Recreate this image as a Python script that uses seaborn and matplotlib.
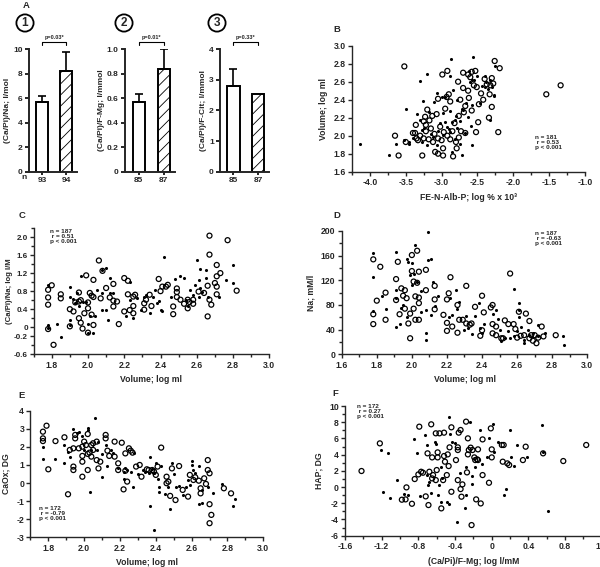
import matplotlib
matplotlib.use("Agg")
import matplotlib.pyplot as plt
import seaborn as sns
import numpy as np

W, H = 600, 567

# ---------------- panel A: bar data ----------------
a_nlabels = [["93", "94"], ["85", "87"], ["85", "87"]]
a_means = [[5.7, 8.2], [0.57, 0.84], [2.80, 2.54]]
a_errs = [[0.45, 1.6], [0.065, 0.16], [0.54, 0.0]]
a_ylabels = ["(Ca/Pi)/Na; l/mol", "(Ca/Pi)/F-Mg; l/mmol", "(Ca/Pi)/F-Cit; l/mmol"]
a_pvalues = ["p=0.03*", "p=0.01*", "p=0.33*"]
a_yticks = [[0, 2, 4, 6, 8, 10], [0, 0.2, 0.4, 0.6, 0.8, 1.0], [0, 1, 2, 3, 4]]
a_yticklabels = [["0", "2", "4", "6", "8", "10"],
                 ["0", "0.2", "0.4", "0.6", "0.8", "1.0"],
                 ["0", "1", "2", "3", "4"]]

# ---------------- panel B ----------------
b_open = [(-3.52, 2.77), (-3.65, 2.00), (-3.60, 1.78), (-3.50, 1.93), (-3.37, 2.03), (-3.33, 1.95),
          (-3.27, 1.78), (-3.20, 2.29), (-3.09, 1.82), (-3.05, 1.80), (-2.98, 1.78), (-2.98, 1.86),
          (-2.99, 2.68), (-2.92, 2.72), (-2.84, 1.77), (-2.79, 1.86), (-2.90, 2.46), (-2.93, 2.43),
          (-3.07, 2.24), (-2.70, 2.70), (-2.58, 2.71), (-2.53, 2.72), (-2.51, 2.54), (-2.42, 2.40),
          (-2.33, 2.46), (-2.28, 2.58), (-2.30, 2.64), (-2.26, 2.83), (-2.19, 2.75), (-2.30, 2.32),
          (-2.34, 2.20), (-2.21, 2.04), (-2.52, 2.04), (-2.49, 2.15), (-2.67, 2.03), (-2.69, 2.26),
          (-2.74, 2.40), (-2.63, 2.50), (-1.54, 2.46), (-1.34, 2.56), (-3.22, 2.12), (-3.23, 2.21),
          (-3.36, 2.12), (-3.40, 2.03), (-3.35, 1.97), (-3.30, 2.00), (-3.25, 1.97), (-3.22, 2.05),
          (-3.18, 1.96), (-3.15, 2.08), (-3.12, 1.93), (-3.10, 2.02), (-3.05, 1.97), (-3.02, 2.10),
          (-2.97, 2.04), (-2.92, 2.00), (-2.88, 1.96), (-2.85, 2.05), (-2.80, 1.93), (-2.76, 1.98),
          (-2.73, 2.05), (-2.82, 2.14), (-2.76, 2.22), (-2.95, 2.30), (-2.88, 2.38), (-3.05, 2.41),
          (-3.13, 2.22), (-3.17, 2.17), (-2.63, 2.68), (-2.60, 2.65), (-2.55, 2.56), (-2.62, 2.42),
          (-2.58, 2.28), (-2.45, 2.47), (-2.40, 2.63), (-2.37, 2.57), (-2.32, 2.56), (-2.48, 2.35),
          (-2.67, 2.33), (-2.70, 2.53), (-2.77, 2.60), (-3.25, 2.16), (-3.00, 1.95)]
b_fill = [(-4.14, 1.91), (-3.74, 1.78), (-3.64, 1.91), (-3.50, 2.30), (-3.53, 1.95), (-3.46, 1.91),
          (-3.30, 2.61), (-3.20, 2.69), (-3.26, 2.38), (-3.35, 2.24), (-3.28, 2.06), (-3.12, 1.99),
          (-3.07, 1.90), (-3.02, 2.14), (-2.98, 2.25), (-2.93, 2.10), (-2.87, 2.85), (-2.89, 2.66),
          (-2.84, 2.51), (-2.79, 2.40), (-2.72, 2.30), (-2.81, 2.17), (-2.88, 2.04), (-2.81, 1.96),
          (-2.74, 1.91), (-2.71, 1.78), (-2.85, 1.82), (-2.58, 2.62), (-2.56, 2.87), (-2.57, 2.34),
          (-2.59, 2.11), (-2.57, 1.90), (-2.47, 2.36), (-2.40, 2.66), (-2.33, 2.62), (-2.40, 2.54),
          (-2.27, 2.44), (-2.33, 2.17), (-3.07, 2.47), (-3.00, 2.43), (-2.63, 2.21), (-2.67, 2.03),
          (-2.98, 2.01), (-3.40, 1.97), (-3.45, 1.93), (-3.28, 1.93), (-3.20, 1.90), (-3.15, 2.02),
          (-3.05, 2.05), (-2.95, 2.15), (-2.90, 2.07), (-2.85, 2.15), (-2.80, 2.22), (-2.78, 2.08),
          (-2.74, 2.16), (-2.70, 2.28), (-2.66, 2.36), (-2.62, 2.72), (-2.60, 2.60), (-2.55, 2.62),
          (-2.50, 2.66), (-2.44, 2.55), (-2.38, 2.60), (-2.35, 2.52), (-2.30, 2.54), (-2.25, 2.77),
          (-2.27, 2.45), (-2.88, 2.27), (-2.95, 2.43), (-3.10, 2.37), (-3.18, 2.26), (-3.30, 2.17),
          (-3.25, 2.08)]
b_xticks = [-4.0, -3.5, -3.0, -2.5, -2.0, -1.5, -1.0]
b_xticklabels = ["-4.0", "-3.5", "-3.0", "-2.5", "-2.0", "-1.5", "-1.0"]
b_yticks = [1.6, 1.8, 2.0, 2.2, 2.4, 2.6, 2.8, 3.0]
b_yticklabels = ["1.6", "1.8", "2.0", "2.2", "2.4", "2.6", "2.8", "3.0"]

# ---------------- panel C ----------------
c_open = [(1.78, 0.66), (1.78, 0.50), (1.78, 0.83), (1.80, 0.93), (1.78, -0.04), (1.81, -0.39),
          (1.85, 0.73), (1.85, 0.64), (1.90, 0.02), (1.90, 0.40), (1.92, 0.35), (1.95, 0.57),
          (1.95, 0.77), (1.95, 0.20), (1.96, 0.10), (1.97, -0.03), (1.98, 0.31), (1.99, 1.15),
          (2.00, -0.12), (2.00, 0.42), (2.01, 0.76), (2.02, 0.28), (2.03, 0.67), (2.03, 0.05),
          (2.03, 1.05), (2.06, 1.48), (2.08, 1.25), (2.07, 0.64), (2.10, 0.87), (2.14, 0.96),
          (2.14, 0.59), (2.14, 0.46), (2.16, 0.57), (2.17, 0.07), (2.20, 1.09), (2.20, 0.35),
          (2.22, 0.73), (2.23, 0.38), (2.25, 0.68), (2.25, 0.47), (2.25, 0.31), (2.31, 0.39),
          (2.31, 0.53), (2.32, 0.61), (2.34, 0.72), (2.35, 0.47), (2.39, 1.07), (2.41, 0.90),
          (2.43, 0.90), (2.44, 0.94), (2.47, 0.46), (2.47, 0.29), (2.49, 0.86), (2.49, 0.67),
          (2.51, 0.61), (2.53, 0.52), (2.55, 0.42), (2.55, 0.61), (2.58, 0.52), (2.61, 0.79),
          (2.64, 0.76), (2.66, 0.92), (2.67, 1.61), (2.67, 2.03), (2.66, 0.24), (2.67, 0.61),
          (2.68, 0.50), (2.70, 0.98), (2.71, 0.90), (2.71, 1.38), (2.71, 1.13), (2.71, 0.73),
          (2.73, 1.20), (2.77, 1.93), (2.82, 0.81), (2.58, 0.61), (1.93, 0.55), (1.96, 0.60),
          (2.00, 0.55), (2.02, 0.70), (2.12, 0.66), (2.26, 0.72), (2.22, 1.03), (2.40, 0.80),
          (2.49, 0.78), (2.56, 0.56)]
c_fill = [(1.78, -0.02), (1.78, 0.05), (1.78, 0.94), (1.83, 0.07), (1.85, -0.21), (1.90, 0.90),
          (1.90, 0.67), (1.90, 0.16), (1.90, 0.05), (1.92, 0.62), (1.93, 0.53), (1.94, 0.76),
          (1.95, 0.46), (1.96, 1.14), (1.97, 0.57), (1.99, 0.57), (2.00, 0.07), (2.00, -0.13),
          (2.01, 0.24), (2.03, -0.13), (2.04, 0.25), (2.05, 0.83), (2.08, 0.39), (2.08, 0.77),
          (2.08, 1.27), (2.10, 1.31), (2.10, 0.39), (2.11, 0.16), (2.12, 0.77), (2.12, 1.09),
          (2.14, 0.75), (2.21, 0.24), (2.23, 1.00), (2.23, 0.61), (2.25, 0.20), (2.27, 0.64),
          (2.29, 0.39), (2.31, 0.67), (2.32, 0.72), (2.34, 0.31), (2.36, 0.68), (2.37, 0.83),
          (2.38, 0.53), (2.39, 0.59), (2.40, 0.39), (2.41, 0.37), (2.42, 1.55), (2.46, 0.68),
          (2.48, 1.07), (2.51, 1.13), (2.53, 1.09), (2.54, 0.61), (2.55, 0.46), (2.56, 0.83),
          (2.58, 0.72), (2.59, 0.94), (2.60, 1.50), (2.61, 1.05), (2.61, 0.66), (2.62, 1.28),
          (2.62, 0.87), (2.63, 0.79), (2.65, 1.26), (2.65, 1.09), (2.66, 0.68), (2.72, 0.67),
          (2.76, 1.04), (2.80, 1.38), (2.80, 0.97)]
vol_xticks = [1.6, 1.8, 2.0, 2.2, 2.4, 2.6, 2.8, 3.0]
vol_xticklabels = ["1.6", "1.8", "2.0", "2.2", "2.4", "2.6", "2.8", "3.0"]
c_yticks = [2.0, 1.6, 1.2, 0.8, 0.4, 0, -0.2, -0.6]
c_yticklabels = ["2.0", "1.6", "1.2", "0.8", "0.4", "0", "-0.2", "-0.6"]

# ---------------- panel D ----------------
d_open = [(1.78, 154), (1.82, 142), (1.80, 87), (1.78, 65), (1.78, 49), (1.85, 100), (1.85, 56),
          (1.91, 122), (1.92, 150), (1.91, 88), (1.93, 65), (1.94, 107), (1.95, 95), (1.96, 74),
          (1.96, 104), (1.97, 91), (1.98, 50), (1.99, 66), (2.00, 135), (2.00, 161), (1.99, 26),
          (2.01, 118), (2.01, 74), (2.02, 94), (2.02, 56), (2.03, 168), (2.04, 134), (2.03, 116),
          (2.04, 92), (2.04, 83), (2.04, 56), (2.08, 137), (2.08, 104), (2.13, 111), (2.13, 89),
          (2.13, 73), (2.18, 64), (2.20, 89), (2.21, 99), (2.22, 125), (2.20, 51), (2.20, 38),
          (2.23, 45), (2.26, 80), (2.26, 35), (2.27, 56), (2.29, 56), (2.31, 111), (2.31, 50),
          (2.33, 48), (2.34, 50), (2.36, 77), (2.39, 30), (2.40, 95), (2.40, 39), (2.41, 68),
          (2.45, 76), (2.46, 80), (2.46, 49), (2.46, 34), (2.48, 45), (2.48, 31), (2.51, 26),
          (2.52, 26), (2.53, 55), (2.55, 49), (2.56, 131), (2.58, 49), (2.59, 41), (2.60, 27),
          (2.61, 69), (2.62, 30), (2.64, 31), (2.65, 66), (2.67, 54), (2.67, 26), (2.68, 31),
          (2.69, 22), (2.70, 31), (2.71, 18), (2.72, 27), (2.74, 45), (2.75, 29), (2.82, 31)]
d_fill = [(1.78, 165), (1.78, 126), (1.78, 71), (1.83, 95), (1.85, 73), (1.91, 166), (1.91, 104),
          (1.91, 92), (1.91, 45), (1.93, 49), (1.94, 75), (1.95, 80), (1.97, 61), (1.97, 154),
          (1.98, 150), (2.00, 148), (1.99, 129), (2.00, 112), (2.02, 177), (2.01, 131), (2.03, 118),
          (2.05, 103), (2.05, 69), (2.08, 35), (2.08, 23), (2.08, 72), (2.09, 199), (2.09, 153),
          (2.11, 154), (2.11, 64), (2.12, 118), (2.13, 78), (2.15, 95), (2.21, 60), (2.22, 92),
          (2.23, 63), (2.25, 104), (2.26, 73), (2.27, 85), (2.30, 39), (2.31, 62), (2.32, 42),
          (2.34, 33), (2.36, 62), (2.38, 84), (2.39, 42), (2.40, 34), (2.41, 49), (2.46, 65),
          (2.48, 72), (2.49, 58), (2.50, 39), (2.51, 21), (2.53, 26), (2.55, 37), (2.56, 26),
          (2.58, 106), (2.58, 29), (2.60, 38), (2.61, 83), (2.61, 72), (2.61, 61), (2.62, 44),
          (2.64, 23), (2.64, 18), (2.66, 39), (2.67, 31), (2.69, 34), (2.72, 48), (2.72, 29),
          (2.76, 35), (2.86, 29), (2.87, 15)]
d_yticks = [0, 40, 80, 120, 160, 200]
d_yticklabels = ["0", "40", "80", "120", "160", "200"]

# ---------------- panel E ----------------
e_open = [(1.77, 2.84), (1.77, 2.47), (1.77, 2.32), (1.79, 3.17), (1.80, 0.76), (1.84, 2.32),
          (1.89, 2.53), (1.91, -0.62), (1.92, 1.83), (1.94, 1.92), (1.94, 0.91), (1.94, 0.72),
          (1.95, 2.66), (1.95, 2.47), (1.97, 1.92), (1.99, 2.01), (1.99, 0.35), (1.99, 1.18),
          (1.99, 1.50), (2.00, 2.29), (2.01, 2.10), (2.02, 2.71), (2.02, 0.72), (2.02, 1.61),
          (2.03, 1.68), (2.04, 1.46), (2.04, 2.10), (2.05, 2.20), (2.05, 1.83), (2.07, 2.29),
          (2.07, 1.27), (2.08, 0.81), (2.09, 1.18), (2.12, 2.66), (2.12, 2.47), (2.13, 1.79),
          (2.14, 1.50), (2.17, 1.46), (2.17, 2.29), (2.19, 0.72), (2.19, 1.09), (2.21, 2.23),
          (2.22, -0.35), (2.23, 1.64), (2.23, 0.68), (2.24, 0.08), (2.25, 1.92), (2.26, 1.79),
          (2.27, 1.68), (2.29, 0.91), (2.31, 1.00), (2.32, 0.35), (2.35, 0.76), (2.36, 0.72),
          (2.38, 0.72), (2.39, 0.63), (2.40, 0.45), (2.41, 0.91), (2.43, 1.96), (2.46, 0.35),
          (2.46, -0.01), (2.47, 0.08), (2.48, -0.71), (2.49, 0.81), (2.51, -0.94), (2.53, 0.94),
          (2.55, -0.38), (2.58, -0.75), (2.59, 0.45), (2.61, 0.17), (2.62, 0.32), (2.64, 0.13),
          (2.65, -0.29), (2.65, -0.57), (2.67, 0.26), (2.68, -0.05), (2.69, 1.27), (2.69, 0.72),
          (2.70, -1.17), (2.70, 0.54), (2.71, -1.76), (2.70, -2.22), (2.78, -0.29), (2.82, -0.57)]
e_fill = [(1.77, 2.01), (1.77, 1.33), (1.84, 1.33), (1.89, 1.09), (1.89, 2.10), (1.91, 1.74),
          (1.92, 1.46), (1.94, 2.97), (1.96, 2.75), (1.97, 2.84), (1.99, 2.60), (2.00, 1.83),
          (2.02, 2.93), (2.02, 3.02), (2.03, -0.48), (2.04, 1.83), (2.06, 3.61), (2.07, 1.83),
          (2.08, 2.29), (2.10, 0.35), (2.10, 1.61), (2.12, 2.10), (2.13, 0.94), (2.15, 1.83),
          (2.16, 1.64), (2.19, 0.81), (2.22, 0.21), (2.22, 0.63), (2.23, 0.81), (2.24, 0.72),
          (2.26, 0.63), (2.27, -0.20), (2.28, 1.68), (2.30, 0.50), (2.33, 0.72), (2.34, 0.63),
          (2.36, 0.54), (2.37, 1.46), (2.37, -1.27), (2.38, 0.76), (2.39, -2.59), (2.39, 0.57),
          (2.40, 1.09), (2.41, 0.22), (2.42, -0.24), (2.42, -0.51), (2.43, 0.94), (2.45, -0.60),
          (2.47, -0.20), (2.48, -1.45), (2.49, 1.13), (2.50, 0.50), (2.51, -0.24), (2.53, -0.16),
          (2.55, -0.66), (2.57, -0.24), (2.58, 0.17), (2.59, -0.11), (2.60, 1.24), (2.60, 1.00),
          (2.61, 0.72), (2.62, 0.54), (2.64, 0.94), (2.64, -1.16), (2.66, -1.12), (2.69, -0.20),
          (2.72, -0.57), (2.77, -0.05), (2.84, -0.88), (2.83, -1.25), (2.66, -0.38)]
e_yticks = [-3, -2, -1, 0, 1, 2, 3, 4]
e_yticklabels = ["-3", "-2", "-1", "0", "1", "2", "3", "4"]

# ---------------- panel F ----------------
f_open = [(-1.42, 1.98), (-1.22, 5.39), (-0.93, -0.04), (-0.98, -1.56), (-0.94, -1.52), (-0.87, -2.06),
          (-0.84, 0.99), (-0.80, 1.56), (-0.77, 1.89), (-0.79, 7.45), (-0.66, 7.74), (-0.72, -1.15),
          (-0.69, -2.22), (-0.70, 4.16), (-0.65, 3.66), (-0.68, 1.89), (-0.65, 1.07), (-0.64, 1.48),
          (-0.61, 6.63), (-0.61, 0.86), (-0.60, 2.10), (-0.59, 3.66), (-0.59, 4.28), (-0.57, 6.63),
          (-0.55, -2.63), (-0.53, 0.86), (-0.52, 3.83), (-0.52, 6.71), (-0.51, 3.13), (-0.49, 1.48),
          (-0.48, 4.03), (-0.47, 2.59), (-0.46, 4.90), (-0.44, -0.58), (-0.44, 7.37), (-0.39, 3.33),
          (-0.37, 4.57), (-0.37, 4.90), (-0.37, 0.86), (-0.36, 6.71), (-0.34, 7.04), (-0.34, -0.25),
          (-0.33, -1.19), (-0.32, 0.33), (-0.28, 8.07), (-0.26, 6.01), (-0.27, 1.81), (-0.26, 4.03),
          (-0.25, 4.57), (-0.23, 4.86), (-0.22, -4.69), (-0.21, 4.57), (-0.19, 3.66), (-0.18, 3.33),
          (-0.16, 3.42), (-0.15, 3.33), (-0.15, 4.65), (-0.17, -1.52), (-0.12, -2.02), (-0.10, 5.88),
          (-0.10, 1.48), (-0.03, 0.53), (-0.01, 7.24), (0.00, 4.65), (0.00, 3.66), (0.11, 5.19),
          (0.13, 5.19), (0.12, 3.13), (0.17, 2.92), (0.19, 2.72), (0.34, 3.33), (0.37, 4.98),
          (0.56, 4.16), (0.78, 3.21), (1.03, 5.19), (-0.75, 1.77)]
f_fill = [(-1.21, 4.57), (-1.19, -0.58), (-1.13, 4.16), (-1.11, -1.40), (-1.03, 0.86), (-0.96, -0.86),
          (-0.91, -0.99), (-0.85, 5.88), (-0.82, 4.16), (-0.78, -1.07), (-0.73, 6.42), (-0.71, 5.19),
          (-0.71, 1.48), (-0.70, 0.25), (-0.68, 0.58), (-0.66, -0.78), (-0.62, 5.53), (-0.61, 5.35),
          (-0.59, -0.99), (-0.58, 0.25), (-0.55, -1.89), (-0.55, 2.51), (-0.54, 1.15), (-0.49, -1.81),
          (-0.47, -2.10), (-0.47, 8.68), (-0.45, 6.50), (-0.43, 5.60), (-0.40, 5.39), (-0.38, -4.36),
          (-0.35, 1.69), (-0.29, -2.63), (-0.28, 2.51), (-0.28, -0.99), (-0.24, 8.07), (-0.22, 1.36),
          (-0.21, 0.33), (-0.18, 2.51), (-0.13, 7.04), (-0.11, 2.80), (-0.05, 3.74), (-0.03, 6.06),
          (0.01, 7.74), (0.02, 4.32), (0.07, 5.56), (0.13, -0.95), (0.15, -0.21), (0.20, 7.04),
          (0.21, 3.74), (0.24, 2.63), (0.27, 5.23), (0.38, 3.74), (0.55, 7.65), (0.56, 4.36),
          (0.61, -2.92)]
f_xticks = [-1.6, -1.2, -0.8, -0.4, 0, 0.4, 0.8, 1.2]
f_xticklabels = ["-1.6", "-1.2", "-0.8", "-0.4", "0", "0.4", "0.8", "1.2"]
f_yticks = [-6, -4, -2, 0, 2, 4, 6, 8, 10]
f_yticklabels = ["-6", "-4", "-2", "0", "2", "4", "6", "8", "10"]

stats = {
    "B": "n = 181\n r = 0.53\np < 0.001",
    "C": "n = 187\n r = 0.51\np < 0.001",
    "D": "n = 187\n r = -0.63\np < 0.001",
    "E": "n = 172\n r = -0.79\np < 0.001",
    "F": "n = 172\n r = 0.27\np < 0.001",
}

sns.set_style("ticks")
plt.rcParams["font.family"] = ["Liberation Sans", "DejaVu Sans"]
plt.rcParams["font.weight"] = "bold"
plt.rcParams["axes.labelweight"] = "bold"
plt.rcParams["axes.unicode_minus"] = False
plt.rcParams["hatch.linewidth"] = 0.6

fig = plt.figure(figsize=(6, 5.67), dpi=100)


def px_axes(l, t, r, b):
    return fig.add_axes([l / W, 1 - b / H, (r - l) / W, (b - t) / H])


def px_text(x, y, s, **kw):
    fig.text(x / W, 1 - y / H, s, **kw)


def style_axis(ax, lw=1.0, size=6.2):
    sns.despine(ax=ax)
    for sp in ["left", "bottom"]:
        ax.spines[sp].set_linewidth(lw)
    ax.tick_params(which="major", direction="out", length=3, width=lw, pad=1.5, labelsize=size)
    ax.tick_params(which="minor", direction="out", length=2, width=lw)


# ---- A: bar charts ----
a_boxes = [(29, 49.3, 77, 171.7), (125, 49.3, 175, 171.7), (220, 49.3, 269, 171.7)]
for i, box in enumerate(a_boxes):
    ax = px_axes(*box)
    sns.barplot(x=a_nlabels[i], y=a_means[i], ax=ax, width=0.5, color="white",
                saturation=1, edgecolor="black", linewidth=1.4, errorbar=None)
    ax.patches[1].set_hatch("///")
    errs = np.array(a_errs[i])
    keep = errs > 0
    ax.errorbar(np.arange(2)[keep], np.array(a_means[i])[keep],
                yerr=[np.zeros(keep.sum()), errs[keep]], fmt="none",
                ecolor="black", elinewidth=1.2, capsize=2.6, capthick=1.2)
    ax.set_xlim(-0.55, 1.45)
    ax.set_ylim(a_yticks[i][0], a_yticks[i][-1])
    ax.set_yticks(a_yticks[i])
    ax.set_yticklabels(a_yticklabels[i])
    ax.set_ylabel(a_ylabels[i], fontsize=6, labelpad=1.5)
    style_axis(ax, lw=1.4, size=6)
    ax.tick_params(axis="x", length=2)
    # significance bracket
    tr = ax.get_xaxis_transform()
    ax.plot([0, 0, 1, 1], [1.038, 1.06, 1.06, 1.038], color="black", lw=0.8,
            transform=tr, clip_on=False)
    ax.text(0.5, 1.098, a_pvalues[i], transform=tr, ha="center", va="center", fontsize=4)

px_text(24, 177.7, "n", fontsize=6, ha="center", va="center")
for num, (cx, cy) in zip(["1", "2", "3"], [(25, 23), (124, 23), (217, 23)]):
    px_text(cx, cy, num, fontsize=8.5, ha="center", va="center",
            bbox=dict(boxstyle="circle,pad=0.22", fc="white", ec="black", lw=1.3))


# ---- scatter panels ----
def scatter_panel(ax, open_pts, fill_pts):
    ox, oy = zip(*open_pts)
    fx, fy = zip(*fill_pts)
    sns.scatterplot(x=list(fx), y=list(fy), ax=ax, color="black", s=5, linewidth=0, clip_on=False)
    sns.scatterplot(x=list(ox), y=list(oy), ax=ax, s=13, facecolor="none",
                    edgecolor="black", linewidth=0.9, clip_on=False)
    style_axis(ax)


ax = px_axes(352, 45.7, 585, 171.7)
scatter_panel(ax, b_open, b_fill)
ax.set_xlim(-4.25, -1.0)
ax.set_ylim(1.6, 3.0)
ax.set_xticks(b_xticks)
ax.set_xticklabels(b_xticklabels)
ax.set_xticks(np.arange(-4.25, -0.99, 0.25), minor=True)
ax.set_yticks(b_yticks)
ax.set_yticklabels(b_yticklabels)
ax.set_xlabel("FE-N-Alb-P; log % x 10³", fontsize=6.2)
ax.set_ylabel("Volume; log ml", fontsize=6.2)

ax = px_axes(33.6, 228, 269.3, 354.3)
scatter_panel(ax, c_open, c_fill)
ax.set_xlim(1.7, 3.0)
ax.set_ylim(-0.6, 2.2)
ax.set_xticks(vol_xticks[1:])
ax.set_xticklabels(vol_xticklabels[1:])
ax.set_xticks(np.arange(1.7, 3.01, 0.1), minor=True)
ax.set_yticks(c_yticks)
ax.set_yticklabels(c_yticklabels)
ax.set_yticks(np.arange(-0.6, 2.21, 0.2), minor=True)
ax.tick_params(axis="y", labelsize=5.8, pad=1)
ax.set_xlabel("Volume; log ml", fontsize=6.2)
ax.set_ylabel("(Ca/Pi)/Na; log l/M", fontsize=5.6, labelpad=1)

ax = px_axes(341.7, 231, 587.3, 354.3)
scatter_panel(ax, d_open, d_fill)
ax.set_xlim(1.6, 3.0)
ax.set_ylim(0, 200)
ax.set_xticks(vol_xticks)
ax.set_xticklabels(vol_xticklabels)
ax.set_xticks(np.arange(1.6, 3.01, 0.1), minor=True)
ax.set_yticks(d_yticks)
ax.set_yticklabels(d_yticklabels)
ax.set_yticks(np.arange(0, 201, 20), minor=True)
ax.set_xlabel("Volume; log ml", fontsize=6.2)
ax.set_ylabel("Na; mM/l", fontsize=6.2)

ax = px_axes(30.4, 410.7, 263.3, 537.3)
scatter_panel(ax, e_open, e_fill)
ax.set_xlim(1.7, 3.0)
ax.set_ylim(-3, 4)
ax.set_xticks(vol_xticks[1:])
ax.set_xticklabels(vol_xticklabels[1:])
ax.set_xticks(np.arange(1.7, 3.01, 0.1), minor=True)
ax.set_yticks(e_yticks)
ax.set_yticklabels(e_yticklabels)
ax.set_xlabel("Volume; log ml", fontsize=6.2)
ax.set_ylabel("CaOx; DG", fontsize=6.2)

ax = px_axes(345, 406, 601.8, 535.7)
scatter_panel(ax, f_open, f_fill)
ax.set_xlim(-1.6, 1.2)
ax.set_ylim(-6, 10)
ax.set_xticks(f_xticks)
ax.set_xticklabels(f_xticklabels)
ax.set_xticks(np.arange(-1.6, 1.21, 0.2), minor=True)
ax.set_yticks(f_yticks)
ax.set_yticklabels(f_yticklabels)
ax.set_yticks(np.arange(-6, 11, 1), minor=True)
ax.set_xlabel("(Ca/Pi)/F-Mg; log l/mM", fontsize=6.2)
ax.set_ylabel("HAP; DG", fontsize=6.2)

# panel letters and stats
for letter, (x, y) in {"A": (26, 6), "B": (337, 29), "C": (22, 216), "D": (337, 215),
                       "E": (22, 396), "F": (335, 394)}.items():
    px_text(x, y, letter, fontsize=6.8, ha="center", va="center")
for key, (x, y) in {"B": (535, 135), "C": (50, 229), "D": (535, 231),
                    "E": (39, 506), "F": (357, 404)}.items():
    px_text(x, y, stats[key], fontsize=4.6, ha="left", va="top", linespacing=1.05)

fig.savefig("out.png", dpi=100)
